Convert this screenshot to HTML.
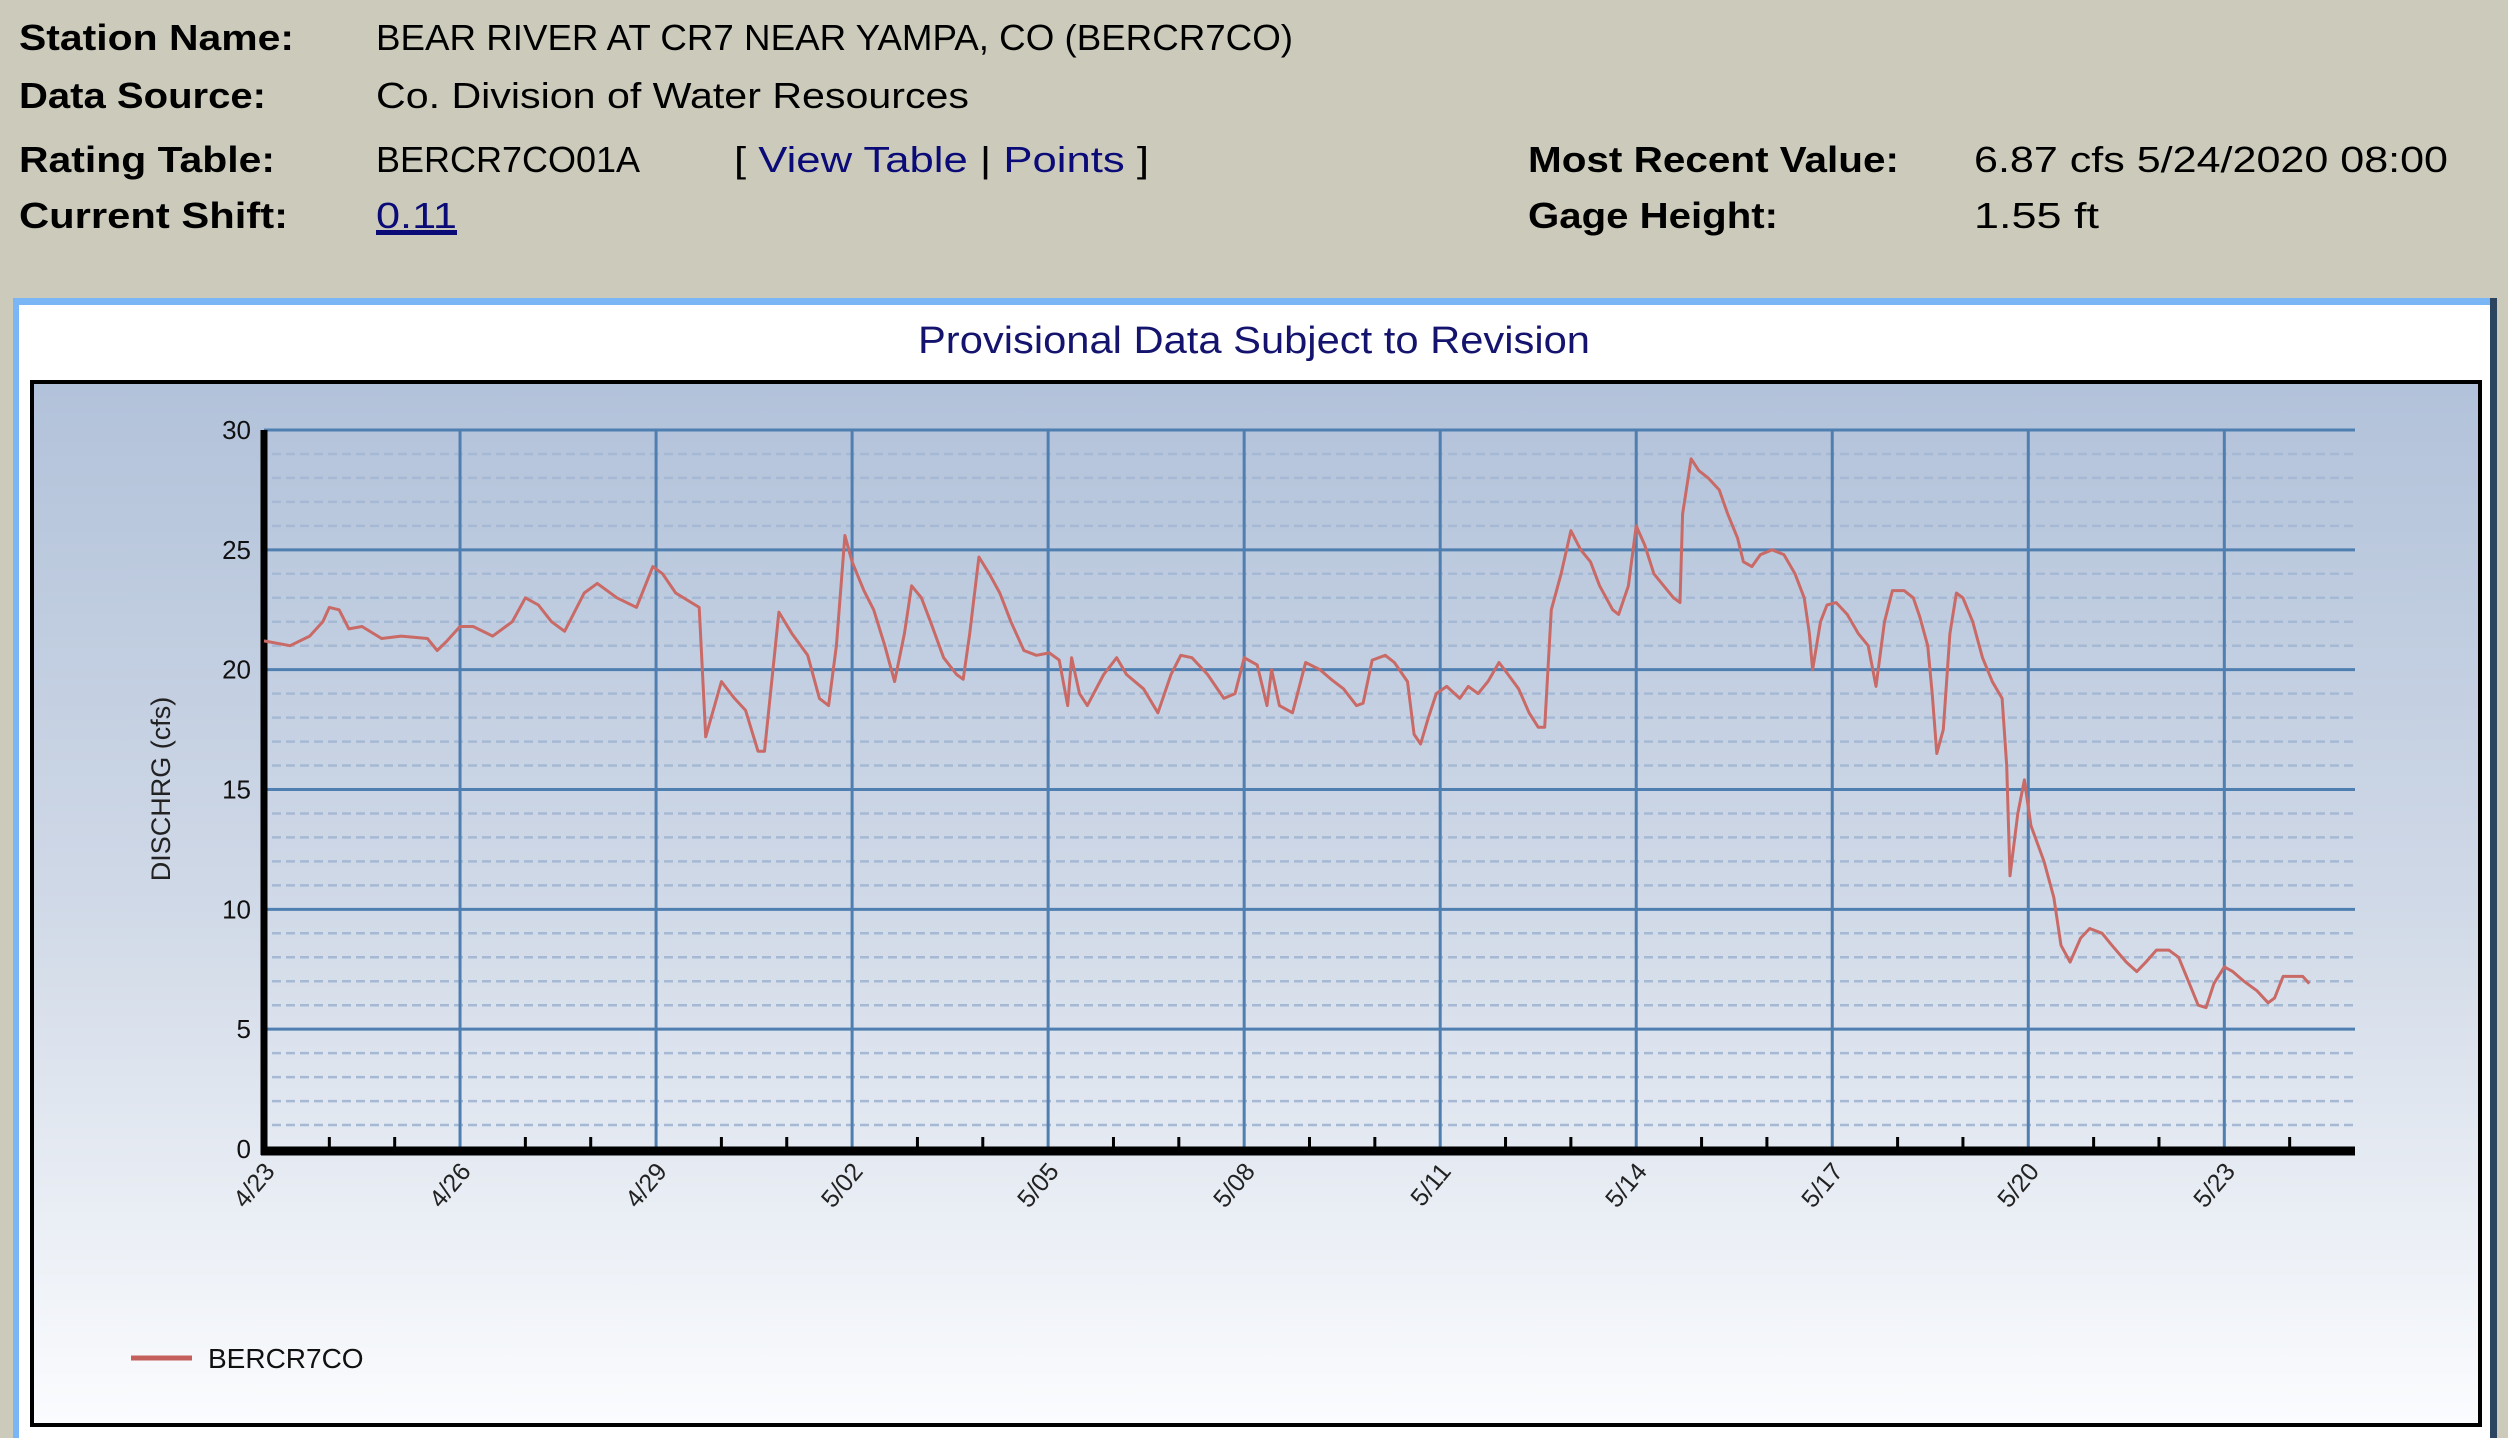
<!DOCTYPE html>
<html><head><meta charset="utf-8"><style>
html,body{margin:0;padding:0;background:#cccbbb;}
svg{display:block;}
text{font-family:"Liberation Sans",sans-serif;}
</style></head><body>
<svg id="chart" width="2508" height="1438" viewBox="0 0 2508 1438" xmlns="http://www.w3.org/2000/svg">
<defs>
<linearGradient id="bg" x1="0" y1="0" x2="0" y2="1">
<stop offset="0" stop-color="#b2c2da"/><stop offset="0.5" stop-color="#d0d9e7"/><stop offset="1" stop-color="#fbfcfe"/>
</linearGradient>
</defs>
<rect x="0" y="0" width="2508" height="1438" fill="#cccbbb"/>
<g font-size="36" fill="#000">
<text x="19" y="50" font-weight="bold" textLength="275" lengthAdjust="spacingAndGlyphs">Station Name:</text>
<text x="376" y="50" textLength="917" lengthAdjust="spacingAndGlyphs">BEAR RIVER AT CR7 NEAR YAMPA, CO (BERCR7CO)</text>
<text x="19" y="108" font-weight="bold" textLength="247" lengthAdjust="spacingAndGlyphs">Data Source:</text>
<text x="376" y="108" textLength="593" lengthAdjust="spacingAndGlyphs">Co. Division of Water Resources</text>
<text x="19" y="172" font-weight="bold" textLength="256" lengthAdjust="spacingAndGlyphs">Rating Table:</text>
<text x="376" y="172" textLength="264" lengthAdjust="spacingAndGlyphs">BERCR7CO01A</text>
<text x="734" y="172" textLength="415" lengthAdjust="spacingAndGlyphs">[ <tspan fill="#0b0b78">View Table</tspan> | <tspan fill="#0b0b78">Points</tspan> ]</text>
<text x="19" y="228" font-weight="bold" textLength="269" lengthAdjust="spacingAndGlyphs">Current Shift:</text>
<text x="376" y="228" fill="#0b0b78" text-decoration="underline" textLength="81" lengthAdjust="spacingAndGlyphs">0.11</text>
<rect x="376" y="232" width="81" height="3" fill="#0b0b78"/>
<text x="1528" y="172" font-weight="bold" textLength="371" lengthAdjust="spacingAndGlyphs">Most Recent Value:</text>
<text x="1974" y="172" textLength="474" lengthAdjust="spacingAndGlyphs">6.87 cfs 5/24/2020 08:00</text>
<text x="1528" y="228" font-weight="bold" textLength="250" lengthAdjust="spacingAndGlyphs">Gage Height:</text>
<text x="1974" y="228" textLength="125" lengthAdjust="spacingAndGlyphs">1.55 ft</text>
</g>
<rect x="13" y="298" width="2484" height="1150" fill="#fff"/>
<rect x="13" y="298" width="2484" height="7" fill="#7ab6f5"/>
<rect x="13" y="298" width="6" height="1150" fill="#7ab6f5"/>
<rect x="2490" y="298" width="7" height="1150" fill="#2b4560"/>
<text x="1254" y="353" text-anchor="middle" font-size="38" fill="#14146e" textLength="672" lengthAdjust="spacingAndGlyphs">Provisional Data Subject to Revision</text>
<rect x="32" y="382" width="2448" height="1043" fill="url(#bg)" stroke="#000" stroke-width="4"/>
<g id="grid"></g>
<g id="axes"></g>
<g id="series"></g>
<text transform="translate(170,789) rotate(-90)" text-anchor="middle" font-size="27" fill="#222">DISCHRG (cfs)</text>
<line x1="131" y1="1358" x2="192" y2="1358" stroke="#c4605c" stroke-width="5"/>
<text x="208" y="1368" font-size="28" fill="#111">BERCR7CO</text>
</svg>
<script>
const yTicks = [0,5,10,15,20,25,30];
const xTickLabels = ["4/23","4/26","4/29","5/02","5/05","5/08","5/11","5/14","5/17","5/20","5/23"];
const dayOffsets = [0,0.4,0.7,0.9,1.0,1.15,1.3,1.5,1.8,2.1,2.5,2.65,2.8,3.0,3.2,3.5,3.8,4.0,4.2,4.4,4.6,4.9,5.1,5.4,5.7,5.95,6.1,6.3,6.66,6.76,7.0,7.2,7.37,7.56,7.66,7.88,8.08,8.32,8.5,8.64,8.76,8.89,9.0,9.18,9.33,9.5,9.65,9.8,9.91,10.06,10.2,10.4,10.6,10.7,10.8,10.94,11.1,11.26,11.43,11.63,11.82,12.02,12.17,12.3,12.36,12.48,12.6,12.85,13.05,13.2,13.46,13.68,13.88,14.03,14.2,14.44,14.69,14.86,15.0,15.2,15.35,15.42,15.54,15.74,15.94,16.16,16.33,16.52,16.72,16.82,16.96,17.16,17.3,17.5,17.6,17.7,17.82,17.94,18.1,18.3,18.43,18.58,18.73,18.9,19.04,19.2,19.36,19.5,19.6,19.7,19.85,20.0,20.15,20.3,20.44,20.64,20.73,20.88,21.0,21.13,21.27,21.42,21.57,21.67,21.71,21.84,21.96,22.1,22.27,22.4,22.55,22.64,22.77,22.9,23.08,23.26,23.43,23.57,23.65,23.7,23.82,23.92,24.06,24.23,24.4,24.55,24.67,24.8,24.92,25.1,25.24,25.34,25.46,25.53,25.6,25.7,25.8,25.9,26.0,26.15,26.3,26.45,26.6,26.67,26.72,26.84,26.94,27.04,27.24,27.39,27.5,27.64,27.8,27.94,28.13,28.28,28.5,28.66,28.8,28.96,29.15,29.3,29.45,29.6,29.72,29.84,30.0,30.13,30.3,30.5,30.67,30.77,30.9,31.06,31.2,31.3];
const discharge = [21.2,21.0,21.4,22.0,22.6,22.5,21.7,21.8,21.3,21.4,21.3,20.8,21.2,21.8,21.8,21.4,22.0,23.0,22.7,22.0,21.6,23.2,23.6,23.0,22.6,24.3,24.0,23.2,22.6,17.2,19.5,18.8,18.3,16.6,16.6,22.4,21.5,20.6,18.8,18.5,21.0,25.6,24.5,23.3,22.5,21.0,19.5,21.5,23.5,23.0,22.0,20.5,19.8,19.6,21.5,24.7,24.0,23.2,22.0,20.8,20.6,20.7,20.4,18.5,20.5,19.0,18.5,19.8,20.5,19.8,19.2,18.2,19.8,20.6,20.5,19.8,18.8,19.0,20.5,20.2,18.5,20.0,18.5,18.2,20.3,20.0,19.6,19.2,18.5,18.6,20.4,20.6,20.3,19.5,17.3,16.9,18.0,19.0,19.3,18.8,19.3,19.0,19.5,20.3,19.8,19.2,18.2,17.6,17.6,22.5,24.0,25.8,25.0,24.5,23.5,22.5,22.3,23.5,26.0,25.2,24.0,23.5,23.0,22.8,26.5,28.8,28.3,28.0,27.5,26.5,25.5,24.5,24.3,24.8,25.0,24.8,24.0,23.0,21.5,20.0,22.0,22.7,22.8,22.3,21.5,21.0,19.3,22.0,23.3,23.3,23.0,22.2,21.0,19.0,16.5,17.5,21.5,23.2,23.0,22.0,20.5,19.5,18.8,16.0,11.4,14.0,15.4,13.5,12.0,10.5,8.5,7.8,8.8,9.2,9.0,8.5,7.8,7.4,7.8,8.3,8.3,8.0,7.0,6.0,5.9,6.9,7.6,7.4,7.0,6.6,6.1,6.3,7.2,7.2,7.2,6.9];

const NS = "http://www.w3.org/2000/svg";
const X0 = 264, X1 = 2355, Y0 = 1149, Y1 = 430, DAYS = 32, VMAX = 30;
function xScale(d){ return X0 + d * (X1 - X0) / DAYS; }
function yScale(v){ return Y0 - v * (Y0 - Y1) / VMAX; }
function mk(tag, attrs, parent){ const e = document.createElementNS(NS, tag); for (const k in attrs) e.setAttribute(k, attrs[k]); parent.appendChild(e); return e; }
const grid = document.getElementById('grid');
const axes = document.getElementById('axes');
const series = document.getElementById('series');

for (let v = 1; v < VMAX; v++) {
  if (v % 5 === 0) continue;
  const l = mk('line', {x1: X0 + 8, x2: X1, y1: yScale(v), y2: yScale(v), stroke: '#a6b9d4', 'stroke-width': 2.5, 'stroke-dasharray': '9 5'}, grid);
  
  
}
yTicks.forEach(v => {
  if (v > 0) {
    const l = mk('line', {x1: X0, x2: X1, y1: yScale(v), y2: yScale(v), stroke: '#4f7eb0', 'stroke-width': 3}, grid);
    
    
  }
  const t = mk('text', {x: 251, y: yScale(v) + 9, 'text-anchor': 'end', 'font-size': 26, fill: '#111'}, axes);
  t.textContent = v;
  
  
});
xTickLabels.forEach((lab, i) => {
  const x = xScale(i * 3);
  if (i > 0) {
    const l = mk('line', {x1: x, x2: x, y1: yScale(VMAX), y2: Y0, stroke: '#4f7eb0', 'stroke-width': 3}, grid);
    
    
  }
  const t = mk('text', {transform: 'translate(' + (x + 12) + ',1172) rotate(-50)', 'text-anchor': 'end', 'font-size': 25, fill: '#222'}, axes);
  t.textContent = lab;
  
  
});
for (let d = 1; d <= 31; d++) {
  if (d % 3 === 0) continue;
  const l = mk('line', {x1: xScale(d), x2: xScale(d), y1: Y0 - 12, y2: Y0, stroke: '#000', 'stroke-width': 3}, axes);
  
  
}
const xa = mk('line', {x1: X0 - 3, x2: X1, y1: Y0 + 2, y2: Y0 + 2, stroke: '#000', 'stroke-width': 9}, axes);


const ya = mk('line', {x1: X0, x2: X0, y1: Y1, y2: Y0 + 6, stroke: '#000', 'stroke-width': 7}, axes);



const pts = dayOffsets.map((d, i) => xScale(d).toFixed(1) + ',' + yScale(discharge[i]).toFixed(1)).join(' ');
const line = mk('polyline', {points: pts, fill: 'none', stroke: '#c96a66', 'stroke-width': 3, 'stroke-linejoin': 'round'}, series);


</script>
</body></html>
